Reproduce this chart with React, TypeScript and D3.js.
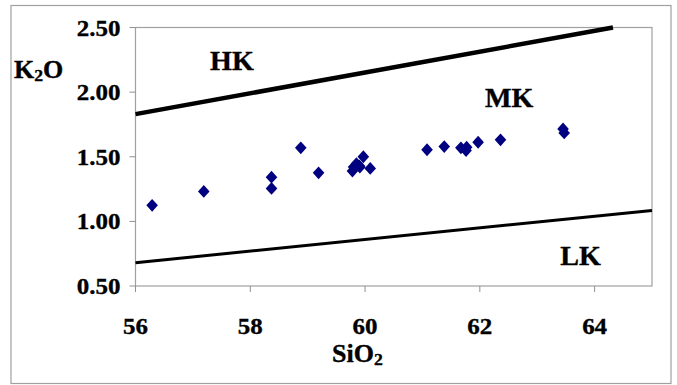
import React, { useEffect, useRef } from "react";
import * as d3 from "d3";

const sio2 = [56.29, 57.19, 58.37, 58.37, 58.88, 59.19, 59.78, 59.8, 59.85, 59.91, 59.97, 60.09, 59.9, 61.08, 61.38, 61.67, 61.76, 61.77, 61.97, 62.36, 63.45, 63.47];
const k2o = [1.124, 1.232, 1.342, 1.255, 1.569, 1.376, 1.389, 1.42, 1.446, 1.42, 1.5, 1.41, 1.43, 1.554, 1.579, 1.569, 1.548, 1.574, 1.612, 1.631, 1.715, 1.684];

const hkLineX = [56, 64.32];
const hkLineY = [1.83, 2.5];
const lkLineX = [56, 65];
const lkLineY = [0.68, 1.085];

const xTicks = [56, 58, 60, 62, 64];
const yTicks = [0.5, 1.0, 1.5, 2.0, 2.5];

const fieldLabels = ["HK", "MK", "LK"];
const fieldX = [57.3, 62.09, 63.4];
const fieldY = [2.17, 1.885, 0.665];

const W = 677;
const H = 385;
const left = 135.5;
const right = 652;
const top = 27.5;
const bottom = 286;
const FONT = "'Liberation Serif', 'Times New Roman', serif";
const SX = 1.04;

const diamond = {
  draw(ctx: any, _size: number) {
    const w = 5.8;
    const h = 6.4;
    ctx.moveTo(0, -h);
    ctx.lineTo(w, 0);
    ctx.lineTo(0, h);
    ctx.lineTo(-w, 0);
    ctx.closePath();
  },
};

export default function App() {
  const ref = useRef<SVGSVGElement | null>(null);

  useEffect(() => {
    const svg = d3.select(ref.current);
    svg.selectAll("*").remove();

    const x = d3.scaleLinear().domain([56, 65]).range([left, right]);
    const y = d3.scaleLinear().domain([0.5, 2.5]).range([bottom, top]);

    const bold = (sel: any, size: number) =>
      sel.attr("font-family", FONT).attr("font-weight", "bold").attr("font-size", size)
        .attr("fill", "#000").attr("stroke", "#000").attr("stroke-width", 0.35);

    svg.append("rect").attr("x", 0).attr("y", 0).attr("width", W).attr("height", H).attr("fill", "#fff");
    // outer chart border
    svg.append("rect").attr("x", 11).attr("y", 5.5).attr("width", 660).attr("height", 378)
      .attr("fill", "none").attr("stroke", "#a0a0a0").attr("stroke-width", 1.2);

    // plot area border
    svg.append("rect").attr("x", left).attr("y", top).attr("width", right - left).attr("height", bottom - top)
      .attr("fill", "#fff").attr("stroke", "#a0a0a0").attr("stroke-width", 1.2);

    // ticks
    const g = svg.append("g");
    yTicks.forEach((t) => {
      g.append("line").attr("x1", left - 6).attr("x2", left).attr("y1", y(t)).attr("y2", y(t))
        .attr("stroke", "#909090").attr("stroke-width", 1);
      bold(g.append("text")
        .attr("transform", `translate(${left - 15},${y(t) + 8}) scale(${SX},1)`)
        .attr("text-anchor", "end"), 24)
        .text(d3.format(".2f")(t));
    });
    xTicks.forEach((t) => {
      g.append("line").attr("x1", x(t)).attr("x2", x(t)).attr("y1", bottom).attr("y2", bottom + 6)
        .attr("stroke", "#909090").attr("stroke-width", 1);
      bold(g.append("text")
        .attr("transform", `translate(${x(t)},${334}) scale(${SX},1)`)
        .attr("text-anchor", "middle"), 24)
        .text(String(t));
    });

    // boundary lines
    const line = d3.line<[number, number]>().x((d) => x(d[0])).y((d) => y(d[1]));
    svg.append("path")
      .attr("d", line(hkLineX.map((v, i) => [v, hkLineY[i]] as [number, number])))
      .attr("stroke", "#000").attr("stroke-width", 4.5).attr("fill", "none");
    svg.append("path")
      .attr("d", line(lkLineX.map((v, i) => [v, lkLineY[i]] as [number, number])))
      .attr("stroke", "#000").attr("stroke-width", 3).attr("fill", "none");

    // points
    const sym = d3.symbol().type(diamond as any);
    svg.append("g").selectAll("path").data(sio2.map((v, i) => [v, k2o[i]]))
      .join("path")
      .attr("d", sym()!)
      .attr("transform", (d) => `translate(${x(d[0])},${y(d[1])})`)
      .attr("fill", "#000080");

    // field labels
    fieldLabels.forEach((lab, i) => {
      bold(svg.append("text")
        .attr("transform", `translate(${x(fieldX[i])},${y(fieldY[i])}) scale(${SX},1)`), 27)
        .text(lab);
    });

    // axis titles
    const k = bold(svg.append("text")
      .attr("transform", `translate(14,78) scale(${SX},1)`), 25);
    k.append("tspan").text("K");
    k.append("tspan").attr("font-size", 17).attr("dy", 3).text("2");
    k.append("tspan").attr("dy", -3).text("O");

    const s = bold(svg.append("text")
      .attr("transform", `translate(${332},362) scale(${SX},1)`), 25);
    s.append("tspan").text("SiO");
    s.append("tspan").attr("font-size", 17).attr("dy", 3).text("2");
  }, []);

  return (
    <svg ref={ref} width={W} height={H} style={{ position: "absolute", left: 0, top: 0, display: "block" }} />
  );
}
